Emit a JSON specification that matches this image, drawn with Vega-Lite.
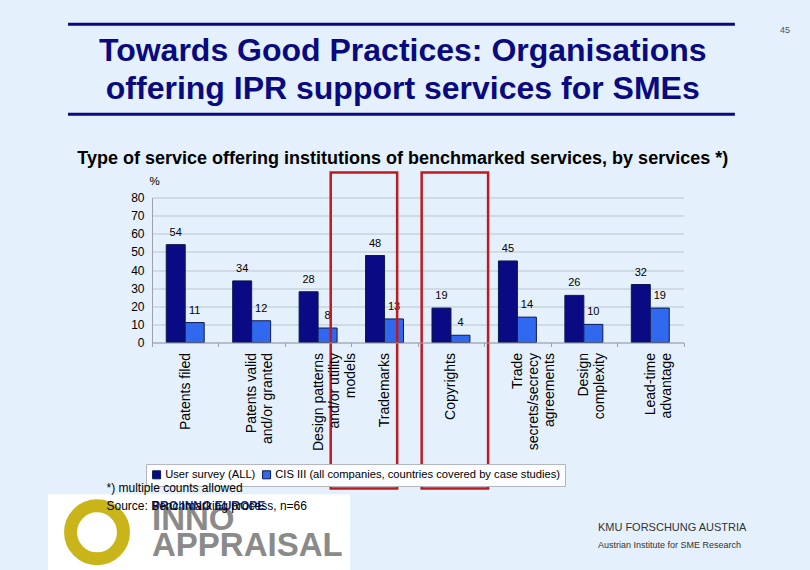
{
  "$schema": "https://vega.github.io/schema/vega-lite/v6.json",
  "autosize": {"type": "none"},
  "width": 531.5,
  "height": 145,
  "padding": {"left": 152, "top": 197.5, "right": 126.5, "bottom": 227.5},
  "background": "#e4f0fb",
  "title": {
    "text": ["Towards Good Practices: Organisations", "offering IPR support services for SMEs"],
    "subtitle": "Type of service offering institutions of benchmarked services, by services *)",
    "anchor": "middle",
    "frame": "group",
    "dx": -15,
    "font": "Liberation Sans",
    "fontSize": 32,
    "fontWeight": "bold",
    "color": "#0a0a80",
    "lineHeight": 38,
    "subtitleFont": "Liberation Sans",
    "subtitleFontSize": 18,
    "subtitleFontWeight": "bold",
    "subtitleColor": "#000000",
    "subtitlePadding": 44,
    "offset": -146
  },
  "resolve": {"axis": {"y": "independent"}},
  "datasets": {
    "bars": [
      {"service": "Patents filed", "series": "User survey (ALL)", "value": 54},
      {"service": "Patents filed", "series": "CIS III (all companies, countries covered by case studies)", "value": 11},
      {"service": "Patents valid and/or granted", "series": "User survey (ALL)", "value": 34},
      {"service": "Patents valid and/or granted", "series": "CIS III (all companies, countries covered by case studies)", "value": 12},
      {"service": "Design patterns and/or utility models", "series": "User survey (ALL)", "value": 28},
      {"service": "Design patterns and/or utility models", "series": "CIS III (all companies, countries covered by case studies)", "value": 8},
      {"service": "Trademarks", "series": "User survey (ALL)", "value": 48},
      {"service": "Trademarks", "series": "CIS III (all companies, countries covered by case studies)", "value": 13},
      {"service": "Copyrights", "series": "User survey (ALL)", "value": 19},
      {"service": "Copyrights", "series": "CIS III (all companies, countries covered by case studies)", "value": 4},
      {"service": "Trade secrets/secrecy agreements", "series": "User survey (ALL)", "value": 45},
      {"service": "Trade secrets/secrecy agreements", "series": "CIS III (all companies, countries covered by case studies)", "value": 14},
      {"service": "Design complexity", "series": "User survey (ALL)", "value": 26},
      {"service": "Design complexity", "series": "CIS III (all companies, countries covered by case studies)", "value": 10},
      {"service": "Lead-time advantage", "series": "User survey (ALL)", "value": 32},
      {"service": "Lead-time advantage", "series": "CIS III (all companies, countries covered by case studies)", "value": 19}
    ]
  },
  "config": {
    "view": {"stroke": null},
    "axis": {"labelFont": "Liberation Sans", "titleFont": "Liberation Sans"},
    "axisY": {"labelFontSize": 12, "labelColor": "#000000", "labelPadding": 8, "ticks": false, "domainColor": "#9aa3ad", "gridColor": "#bcc5ce", "gridWidth": 1},
    "axisX": {"labelAngle": 270, "labelAlign": "right", "labelBaseline": "middle", "labelFontSize": 14, "labelColor": "#000000", "labelLineHeight": 16, "labelPadding": 6, "tickBand": "extent", "tickSize": 4, "tickColor": "#9aa3ad", "domainColor": "#9aa3ad", "grid": false}
  },
  "layer": [
    {
      "data": {"name": "bars"},
      "mark": {"type": "bar", "stroke": "#0d1a4d", "strokeWidth": 1},
      "encoding": {
        "x": {
          "field": "service", "type": "nominal", "sort": null,
          "scale": {"paddingInner": 0, "paddingOuter": 0},
          "axis": {
            "zindex": 1,
            "title": ["*) multiple counts allowed", "Source: Benchmarking process, n=66"],
            "titleFontSize": 12, "titleFontWeight": "normal", "titleColor": "#000000",
            "titleAnchor": "start", "titleAlign": "left", "titleBaseline": "top",
            "titleX": -46, "titleY": 140, "titleLineHeight": 18,
            "labelExpr": "datum.value == 'Patents valid and/or granted' ? ['Patents valid','and/or granted'] : datum.value == 'Design patterns and/or utility models' ? ['Design patterns','and/or utility','models'] : datum.value == 'Trade secrets/secrecy agreements' ? ['Trade','secrets/secrecy','agreements'] : datum.value == 'Design complexity' ? ['Design','complexity'] : datum.value == 'Lead-time advantage' ? ['Lead-time','advantage'] : datum.label"
          }
        },
        "xOffset": {"field": "series", "type": "nominal", "sort": null, "scale": {"paddingInner": 0, "paddingOuter": 0.75}},
        "y": {
          "field": "value", "type": "quantitative",
          "scale": {"domain": [0, 80]},
          "axis": {
            "title": "%", "titleAngle": 0, "titleX": 2, "titleY": -16.5,
            "titleAlign": "center", "titleBaseline": "middle",
            "titleFontSize": 11.5, "titleFontWeight": "normal", "titleColor": "#000000",
            "values": [0, 10, 20, 30, 40, 50, 60, 70, 80], "labelOverlap": false
          }
        },
        "color": {
          "field": "series", "type": "nominal", "sort": null,
          "scale": {"range": ["#0a0a84", "#3069f0"]},
          "legend": {
            "title": null, "orient": "none", "direction": "horizontal",
            "legendX": -6, "legendY": 266.5,
            "fillColor": "#fafcfe", "strokeColor": "#b4b8bc", "padding": 5,
            "symbolType": "square", "symbolSize": 64, "symbolStrokeColor": "#0d1a4d", "symbolStrokeWidth": 1,
            "labelFont": "Liberation Sans", "labelFontSize": 11.2, "labelColor": "#000000",
            "columnPadding": 4, "labelOffset": 3, "labelLimit": 400
          }
        }
      }
    },
    {
      "data": {"name": "bars"},
      "mark": {"type": "text", "baseline": "middle", "dy": -12, "font": "Liberation Sans", "fontSize": 11, "color": "#000000"},
      "encoding": {
        "x": {"field": "service", "type": "nominal", "sort": null},
        "xOffset": {"field": "series", "type": "nominal", "sort": null},
        "y": {"field": "value", "type": "quantitative", "scale": {"domain": [0, 80]}, "axis": null},
        "text": {"field": "value", "type": "quantitative"}
      }
    },
    {
      "data": {"values": [{"service": "Trademarks"}]},
      "mark": {"type": "rect", "fill": null, "fillOpacity": 0, "stroke": "#c0191f", "strokeWidth": 2.5, "xOffset": -20.6},
      "encoding": {
        "x": {"field": "service", "type": "nominal", "sort": null},
        "y": {"datum": 93.8, "scale": {"domain": [0, 80]}, "axis": null},
        "y2": {"datum": -80.5}
      }
    },
    {
      "data": {"values": [{"service": "Copyrights"}]},
      "mark": {"type": "rect", "fill": null, "fillOpacity": 0, "stroke": "#c0191f", "strokeWidth": 2.5, "xOffset": 3.9},
      "encoding": {
        "x": {"field": "service", "type": "nominal", "sort": null},
        "y": {"datum": 93.8, "scale": {"domain": [0, 80]}, "axis": null},
        "y2": {"datum": -80.5}
      }
    },
    {
      "data": {"values": [{}]},
      "mark": {"type": "rule", "stroke": "#0a0a80", "strokeWidth": 3, "xOffset": -117.2, "x2Offset": 84.6},
      "encoding": {
        "x": {"datum": "Patents filed"},
        "x2": {"datum": "Lead-time advantage"},
        "y": {"datum": 175.6, "scale": {"domain": [0, 80]}, "axis": null}
      }
    },
    {
      "data": {"values": [{}]},
      "mark": {"type": "rule", "stroke": "#0a0a80", "strokeWidth": 3, "xOffset": -117.2, "x2Offset": 84.6},
      "encoding": {
        "x": {"datum": "Patents filed"},
        "x2": {"datum": "Lead-time advantage"},
        "y": {"datum": 126.0, "scale": {"domain": [0, 80]}, "axis": null}
      }
    },
    {
      "data": {"values": [{}]},
      "mark": {"type": "rect", "fill": "#ffffff", "xOffset": -137.2, "x2Offset": 164.8},
      "encoding": {
        "x": {"datum": "Patents filed"},
        "x2": {"datum": "Patents filed"},
        "y": {"datum": -83.7, "scale": {"domain": [0, 80]}, "axis": null},
        "y2": {"datum": -125.6}
      }
    },
    {
      "data": {"values": [{}]},
      "mark": {"type": "point", "shape": "circle", "size": 2800, "filled": false, "stroke": "#c9b51a", "strokeWidth": 13, "opacity": 1, "xOffset": -88.2},
      "encoding": {
        "x": {"datum": "Patents filed"},
        "y": {"datum": -104.7, "scale": {"domain": [0, 80]}, "axis": null}
      }
    },
    {
      "data": {"values": [{}]},
      "mark": {"type": "text", "text": "INNO", "align": "left", "baseline": "alphabetic", "font": "Liberation Sans", "fontSize": 33, "fontWeight": "bold", "color": "#8a8a8a", "xOffset": -33.2},
      "encoding": {
        "x": {"datum": "Patents filed"},
        "y": {"datum": -103.5, "scale": {"domain": [0, 80]}, "axis": null}
      }
    },
    {
      "data": {"values": [{}]},
      "mark": {"type": "text", "text": "APPRAISAL", "align": "left", "baseline": "alphabetic", "font": "Liberation Sans", "fontSize": 33, "fontWeight": "bold", "color": "#8a8a8a", "xOffset": -33.2},
      "encoding": {
        "x": {"datum": "Patents filed"},
        "y": {"datum": -117.8, "scale": {"domain": [0, 80]}, "axis": null}
      }
    },
    {
      "data": {"values": [{}]},
      "mark": {"type": "text", "text": "PRO INNO EUROPE", "align": "left", "baseline": "middle", "font": "Liberation Sans", "fontSize": 12, "fontWeight": "bold", "color": "#1a2a7a", "xOffset": -33.2},
      "encoding": {
        "x": {"datum": "Patents filed"},
        "y": {"datum": -90.3, "scale": {"domain": [0, 80]}, "axis": null}
      }
    },
    {
      "data": {"values": [{}]},
      "mark": {"type": "text", "text": "KMU FORSCHUNG AUSTRIA", "align": "left", "baseline": "middle", "font": "Liberation Sans", "fontSize": 11, "color": "#333333", "xOffset": -52.4},
      "encoding": {
        "x": {"datum": "Lead-time advantage"},
        "y": {"datum": -102.5, "scale": {"domain": [0, 80]}, "axis": null}
      }
    },
    {
      "data": {"values": [{}]},
      "mark": {"type": "text", "text": "Austrian Institute for SME Research", "align": "left", "baseline": "middle", "font": "Liberation Sans", "fontSize": 9, "color": "#333333", "xOffset": -52.4},
      "encoding": {
        "x": {"datum": "Lead-time advantage"},
        "y": {"datum": -111.8, "scale": {"domain": [0, 80]}, "axis": null}
      }
    },
    {
      "data": {"values": [{}]},
      "mark": {"type": "text", "text": "45", "align": "center", "baseline": "middle", "font": "Liberation Sans", "fontSize": 9, "color": "#555555", "xOffset": 134.6},
      "encoding": {
        "x": {"datum": "Lead-time advantage"},
        "y": {"datum": 172.3, "scale": {"domain": [0, 80]}, "axis": null}
      }
    }
  ]
}
